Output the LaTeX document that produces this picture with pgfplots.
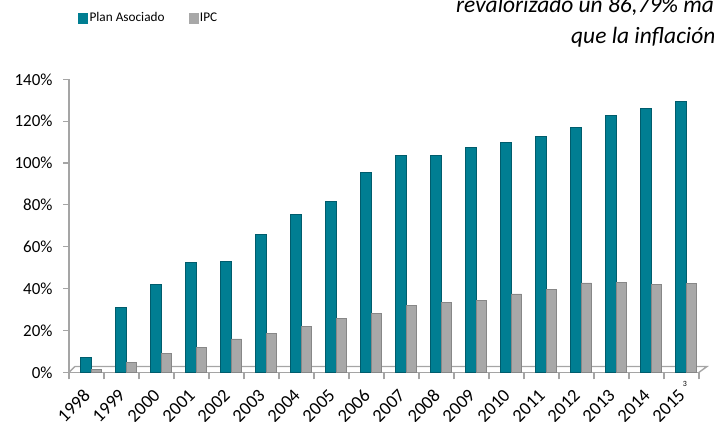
\documentclass[border=0pt]{standalone}
\usepackage{pgfplots}
\pgfplotsset{compat=1.18}
\usepackage{fontspec}
\setmainfont{Carlito}
\definecolor{tealC}{RGB}{0,126,146}
\definecolor{tealD}{RGB}{0,92,108}
\definecolor{grayC}{RGB}{168,168,168}
\definecolor{grayD}{RGB}{135,135,135}
\definecolor{axisG}{RGB}{165,165,165}
\begin{document}
\begin{tikzpicture}[x=1bp,y=1bp]
\useasboundingbox (0,0) rectangle (714,421);
\clip (0,0) rectangle (714,421);
\begin{axis}[
  at={(69bp,48.7bp)}, anchor=south west,
  scale only axis, width=630bp, height=293bp,
  xmin=-0.5, xmax=17.5, ymin=0, ymax=140,
  axis x line*=bottom, axis y line*=left,
  axis line style={draw=axisG, line width=1.6bp},
  tick align=outside,
  major tick length=6bp, minor tick length=7bp,
  tick style={draw=axisG, line width=1.2bp},
  major x tick style={draw=none},
  xtick={0,...,17},
  minor xtick={-0.5,0.5,...,17.5},
  xticklabels={1998,1999,2000,2001,2002,2003,2004,2005,2006,2007,2008,2009,2010,2011,2012,2013,2014,2015},
  xticklabel style={xshift=0.5bp, yshift=-14bp, rotate=45, anchor=east, font=\fontsize{18.5}{20}\selectfont, inner sep=0pt},
  ytick={0,20,...,140},
  yticklabels={0\%,20\%,40\%,60\%,80\%,100\%,120\%,140\%},
  yticklabel style={font=\fontsize{17}{19}\selectfont, xshift=-7bp},
  legend columns=2,
  legend style={draw=none, fill=none, at={(0.0143,1.209)}, anchor=west, inner sep=0pt,
    font=\fontsize{13.3}{15}\selectfont,
    /tikz/every even column/.append style={column sep=22bp}},
  legend cell align=left,
  clip=false,
]
% 3D floor
\draw[axisG, line width=1.4bp] (axis cs:-0.5,0) -- ++(6bp,5.8bp) -- ([xshift=8bp,yshift=5.8bp]axis cs:17.5,0) -- (axis cs:17.5,0);
\addlegendimage{legend image code/.code={\fill[tealC] (0bp,-5bp) rectangle (9bp,5bp);}}
\addlegendentry{Plan Asociado}
\addlegendimage{legend image code/.code={\fill[grayC] (0bp,-5bp) rectangle (9bp,5bp);}}
\addlegendentry{IPC}
\addplot[ybar, bar width=11bp, bar shift=-0.5bp, draw=tealD, line width=0.6bp, fill=tealC, forget plot]
coordinates {(0,7) (1,31) (2,42) (3,52.5) (4,53) (5,66) (6,75.3) (7,81.5) (8,95.5) (9,103.5) (10,103.5) (11,107.5) (12,110) (13,112.8) (14,117.2) (15,122.7) (16,126.2) (17,129.4)};
\addplot[ybar, bar width=10bp, bar shift=10bp, draw=grayD, line width=0.6bp, fill=grayC, forget plot]
coordinates {(0,1.5) (1,4.8) (2,9) (3,12) (4,16) (5,18.6) (6,22) (7,25.7) (8,28) (9,32) (10,33.5) (11,34.5) (12,37.5) (13,39.8) (14,42.7) (15,43) (16,42) (17,42.3)};
\end{axis}
\node[anchor=base west, inner sep=0pt, font=\fontsize{23.5}{26}\selectfont\itshape] at (456,408.7) {revalorizado un 86,79\% más};
\node[anchor=base west, inner sep=0pt, font=\fontsize{23.5}{26}\selectfont\itshape] at (571,377.7) {que la inflación.};
\node[anchor=base, inner sep=0pt, font=\fontsize{8}{9}\selectfont] at (685,35) {3};
\end{tikzpicture}
\end{document}
